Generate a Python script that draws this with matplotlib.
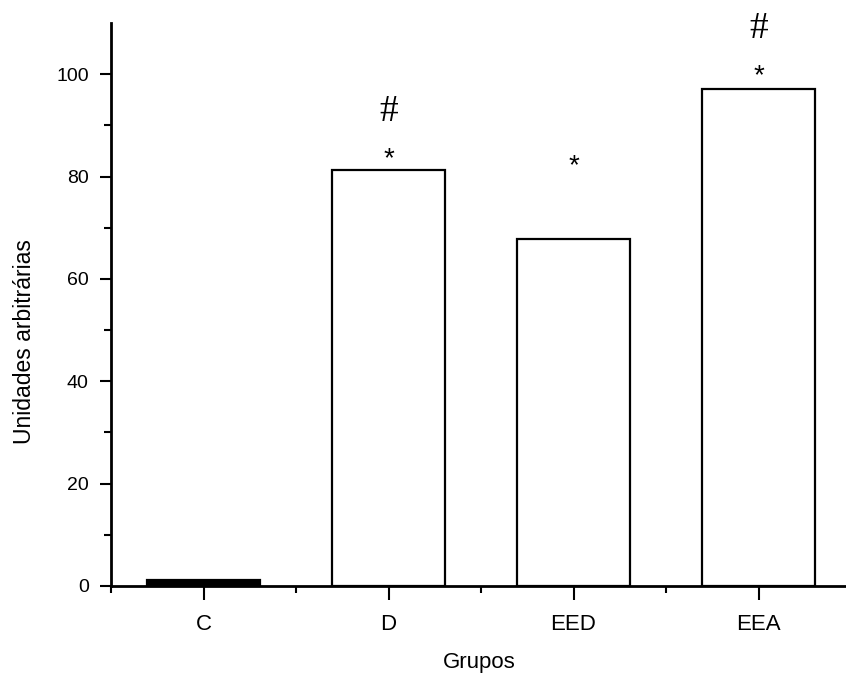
import numpy as np
from matplotlib import pyplot as plt

# Dados do gráfico
grupos = ["C", "D", "EED", "EEA"]
valores = [1.2, 81.3, 67.8, 97.2]
cores = ["black", "white", "white", "white"]

# Marcações de significância (altura no eixo y)
asteriscos = [None, 83.4, 82.0, 99.6]
cerquilhas = [None, 92.6, None, 108.8]

plt.rcParams['font.family'] = ['Liberation Sans', 'DejaVu Sans']

fig = plt.figure(figsize=(8.46, 6.83), dpi=100)
ax = fig.add_axes([111 / 846, 97 / 683, 740 / 846, 563 / 683])

x = np.arange(len(grupos))
ax.bar(x, valores, width=0.61, color=cores, edgecolor="black", linewidth=1.6, zorder=3)

for xi, y in zip(x, asteriscos):
    if y is not None:
        ax.text(xi, y, "*", ha="center", va="center", fontsize=20)
for xi, y in zip(x, cerquilhas):
    if y is not None:
        ax.text(xi, y, "#", ha="center", va="center", fontsize=27, family="Liberation Serif")

ax.set_xlim(-0.5, 3.5)
ax.set_ylim(0, 110)
ax.set_xticks(x)
ax.set_xticklabels(grupos)
ax.set_xticks(np.arange(-0.5, 3.6, 1), minor=True)
ax.set_yticks([0, 20, 40, 60, 80, 100])
ax.set_yticks([10, 30, 50, 70, 90], minor=True)

for s in ["top", "right"]:
    ax.spines[s].set_visible(False)
ax.spines["left"].set_linewidth(2)
ax.spines["bottom"].set_linewidth(2)

ax.tick_params(axis="x", which="major", length=10, width=1.5, labelsize=16, pad=10)
ax.tick_params(axis="x", which="minor", length=5, width=1.5)
ax.tick_params(axis="y", which="major", length=8, width=1.5, labelsize=14, pad=8)
ax.tick_params(axis="y", which="minor", length=5, width=1.5)

ax.set_xlabel("Grupos", fontsize=16)
ax.set_ylabel("Unidades arbitrárias", fontsize=16.5)
ax.xaxis.set_label_coords(0.497, -0.118)
ax.yaxis.set_label_coords(-0.102, 0.435)

fig.savefig("out.png", dpi=100)
